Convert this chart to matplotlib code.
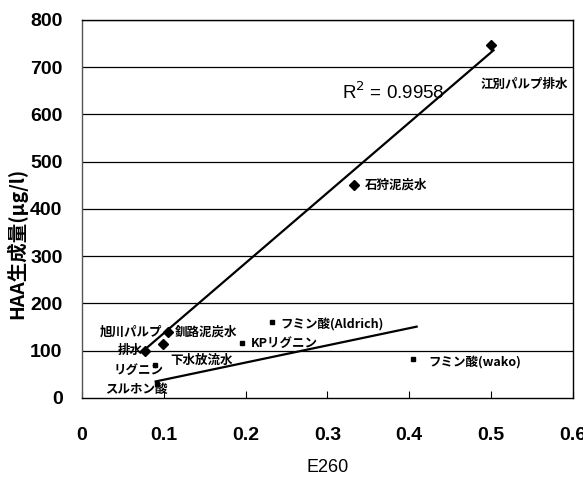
import numpy as np
import matplotlib.pyplot as plt

plt.rcParams['font.family'] = ['Liberation Sans', 'Noto Sans CJK JP']

# E260 と HAA生成量 (μg/l)
# 系列1: パルプ排水・泥炭水など (◆)
e260_a = [0.077, 0.105, 0.099, 0.333, 0.500]
haa_a = [100, 140, 115, 450, 748]
# 系列2: リグニン・フミン酸など (■)
e260_b = [0.092, 0.089, 0.196, 0.232, 0.405]
haa_b = [30, 70, 116, 160, 82]

# 近似直線の端点
trend_a_x = [0.075, 0.503]
trend_a_y = [100, 736]
trend_b_x = [0.090, 0.409]
trend_b_y = [35, 151]

# 注記 (文字, x, y)
names = ['江別パルプ排水', '石狩泥炭水', '旭川パルプ', '排水', '釧路泥炭水', '下水放流水',
         'リグニン', 'スルホン酸', 'KPリグニン', 'フミン酸(Aldrich)', 'フミン酸(wako)']
name_x = [0.487, 0.346, 0.022, 0.044, 0.114, 0.108, 0.038, 0.028, 0.206, 0.242, 0.423]
name_y = [664, 450, 140, 101, 140, 80, 59, 17, 116, 154, 74]

jp = ['Noto Sans CJK JP', 'DejaVu Sans']

fig = plt.figure(figsize=(5.83, 4.83), dpi=100)
ax = fig.add_axes([0.1407, 0.176, 0.842, 0.7826])

for y in range(100, 900, 100):
    ax.axhline(y, color='black', linewidth=0.9, zorder=1)

ax.plot(trend_a_x, trend_a_y, color='black', linewidth=1.6, zorder=2)
ax.plot(trend_b_x, trend_b_y, color='black', linewidth=1.6, zorder=2)
ax.plot(e260_a, haa_a, linestyle='none', marker='D', markersize=5, color='black', zorder=3)
ax.plot(e260_b, haa_b, linestyle='none', marker='s', markersize=3.5, color='black', zorder=3)

for t, x, y in zip(names, name_x, name_y):
    ax.text(x, y, t, fontsize=9, fontweight='bold', va='center', ha='left',
            family=jp, zorder=4)

ax.text(0.318, 647, 'R$^2$ = 0.9958', fontsize=13.5, va='center', ha='left')

ax.set_xlim(0, 0.6)
ax.set_ylim(0, 800)
ax.set_xticks(np.arange(0, 0.61, 0.1))
ax.set_xticklabels(['0', '0.1', '0.2', '0.3', '0.4', '0.5', '0.6'])
ax.set_yticks(range(0, 900, 100))
ax.tick_params(axis='x', direction='in', length=5, pad=21, labelsize=14)
ax.tick_params(axis='y', length=0, pad=14, labelsize=14)
for lab in ax.get_xticklabels() + ax.get_yticklabels():
    lab.set_fontweight('bold')

for s in ax.spines.values():
    s.set_color('black')
    s.set_linewidth(1.0)
ax.spines['left'].set_color('#555555')

ax.set_xlabel('E260', fontsize=13, va='center')
ax.xaxis.set_label_coords(0.5, -0.185)
ax.set_ylabel('HAA生成量(μg/l)', fontsize=14, fontweight='bold', va='center', family=jp)
ax.yaxis.set_label_coords(-0.134, 0.41)

fig.savefig('out.png', dpi=100)
